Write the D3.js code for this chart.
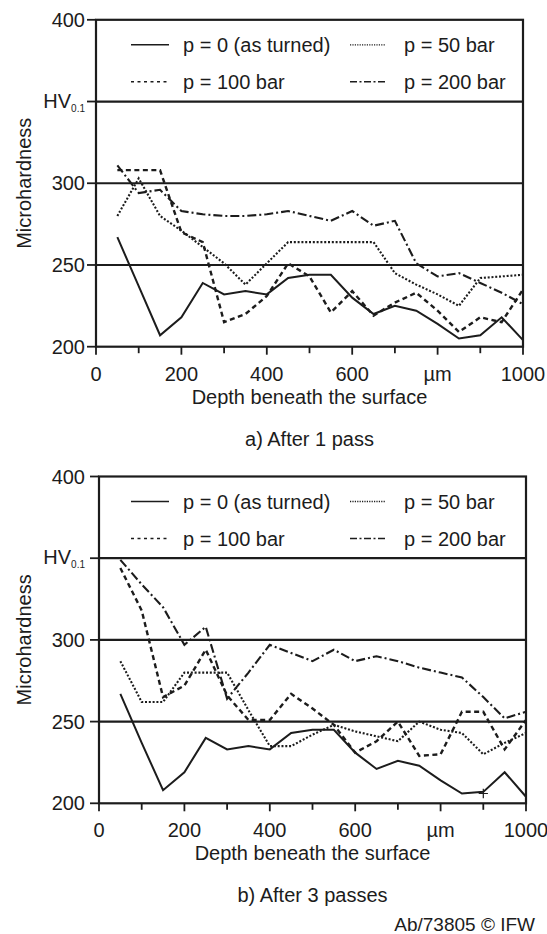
<!DOCTYPE html>
<html><head><meta charset="utf-8">
<script src="https://cdn.jsdelivr.net/npm/d3@7"></script>
<style>
html,body{margin:0;padding:0;background:#fff;}
svg{display:block;font-family:Arial,"Liberation Sans",sans-serif;}
</style></head><body>
<svg id="c" width="547" height="934"></svg>
<script>
// ---- data ----
const depth = [50,100,150,200,250,300,350,400,450,500,550,600,650,700,750,800,850,900,950,1000];
const seriesNames = ["p = 0 (as turned)", "p = 50 bar", "p = 100 bar", "p = 200 bar"];
// a) After 1 pass
const pass1_p0   = [267,237,207,218,239,232,234,232,242,244,244,230,220,225,222,214,205,207,218,204];
const pass1_p50  = [280,303,280,271,261,251,238,251,264,264,264,264,264,245,238,232,225,242,243,244];
const pass1_p100 = [308,308,308,270,264,215,220,231,251,243,221,234,219,227,233,222,209,218,215,235];
const pass1_p200 = [311,294,296,283,281,280,280,281,283,280,277,283,274,277,251,243,245,239,233,226];
// b) After 3 passes
const pass3_p0   = [267,237,208,219,240,233,235,233,243,245,245,231,221,226,223,214,206,207,219,204];
const pass3_p50  = [287,262,262,280,280,280,257,235,235,242,248,244,241,238,250,245,243,230,237,243];
const pass3_p100 = [344,318,265,272,294,266,251,251,267,258,248,231,238,250,229,230,256,256,233,251];
const pass3_p200 = [349,334,320,297,308,264,280,297,292,287,294,287,290,287,283,280,277,265,252,256];
// marker seen in panel b
const markerDepth = [900];
const markerValue = [206];
// axes
const yTickValues = [200,250,300,350,400];
const yTickLabels = ["200","250","300","HV","400"];
const gridValues = [250,300,350];
const xTickValues = [0,100,200,300,400,500,600,700,800,900,1000];
const xLabelValues = [0,200,400,600,800,1000];
const xLabelTexts = ["0","200","400","600","µm","1000"];
const panelTitles = ["a) After 1 pass","b) After 3 passes"];

const ink = "#1c1c1c";
const styles = [
  {dash:null, w:2},
  {dash:"2,1.8", w:2.1},
  {dash:"5,3.5", w:2.4},
  {dash:"9,3,2,3", w:2.1}
];

const svg = d3.select("#c");
const FS = 20;

function panel(cfg, series, title, marker){
  const x = d3.scaleLinear().domain([0,1000]).range([cfg.left, cfg.right]);
  const y = d3.scaleLinear().domain([200,400]).range([cfg.bottom, cfg.top]);
  const g = svg.append("g");

  // gridlines
  g.selectAll("line.grid").data(gridValues).enter().append("line")
    .attr("x1", cfg.left).attr("x2", cfg.right)
    .attr("y1", d=>y(d)).attr("y2", d=>y(d))
    .attr("stroke", ink).attr("stroke-width", 2.2);

  // x axis ticks
  g.selectAll("line.xt").data(xTickValues).enter().append("line")
    .attr("x1", d=>x(d)).attr("x2", d=>x(d))
    .attr("y1", cfg.bottom).attr("y2", d=> cfg.bottom + (d%200===0 ? 8 : 6.5))
    .attr("stroke", ink).attr("stroke-width", 1.8);
  g.selectAll("text.xl").data(xLabelValues).enter().append("text")
    .attr("x", d=>x(d)).attr("y", cfg.bottom + 34)
    .attr("text-anchor","middle").attr("font-size", FS).attr("fill", ink)
    .text((d,i)=>xLabelTexts[i]);

  // y ticks
  g.selectAll("line.yt").data(yTickValues).enter().append("line")
    .attr("x1", cfg.left - 9).attr("x2", cfg.left)
    .attr("y1", d=>y(d)).attr("y2", d=>y(d))
    .attr("stroke", ink).attr("stroke-width", 1.8);
  yTickValues.forEach((v,i)=>{
    const t = g.append("text").attr("x", 85).attr("y", y(v)).attr("dy","0.35em")
      .attr("text-anchor","end").attr("font-size", FS).attr("fill", ink);
    if (yTickLabels[i]==="HV"){
      t.attr("dy","0.3em");
      t.append("tspan").text("HV");
      t.append("tspan").attr("font-size", 10).attr("dy", 4).text("0.1");
    } else t.text(yTickLabels[i]);
  });

  // data lines
  const line = d3.line().x((d,i)=>x(depth[i])).y(d=>y(d));
  series.forEach((s,k)=>{
    g.append("path").datum(s).attr("d", line)
      .attr("fill","none").attr("stroke", ink)
      .attr("stroke-width", styles[k].w)
      .attr("stroke-dasharray", styles[k].dash)
      .attr("stroke-linejoin","miter");
  });

  if (marker){
    g.selectAll("path.mk").data(markerDepth).enter().append("path")
      .attr("d", d3.symbol().type(d3.symbolPlus).size(30))
      .attr("transform", (d,i)=>`translate(${x(d)},${y(markerValue[i])})`)
      .attr("fill","none").attr("stroke", ink).attr("stroke-width", 1.2);
  }

  // frame
  g.append("rect").attr("x", cfg.left).attr("y", cfg.top)
    .attr("width", cfg.right-cfg.left).attr("height", cfg.bottom-cfg.top)
    .attr("fill","none").attr("stroke", ink).attr("stroke-width", 2.2);

  // legend
  const legPos = [
    {sx:131, ex:169, tx:183, ry:25},
    {sx:350, ex:386, tx:404, ry:25},
    {sx:131, ex:169, tx:183, ry:62},
    {sx:350, ex:386, tx:404, ry:62}
  ];
  seriesNames.forEach((n,k)=>{
    const p = legPos[k];
    g.append("line").attr("x1", p.sx).attr("x2", p.ex)
      .attr("y1", cfg.top + p.ry).attr("y2", cfg.top + p.ry)
      .attr("stroke", ink).attr("stroke-width", k===1 ? 1.3 : 1.6)
      .attr("stroke-dasharray", k===1 ? "1.2,1.2" : (k===2 ? "3,3.5" : (k===3 ? "7,2.5,2,2.5" : null)));
    g.append("text").attr("x", p.tx).attr("y", cfg.top + p.ry).attr("dy","0.35em")
      .attr("font-size", FS).attr("fill", ink).text(n);
  });

  // axis titles
  g.append("text").attr("transform", `translate(31,${(cfg.top+cfg.bottom)/2}) rotate(-90)`)
    .attr("text-anchor","middle").attr("font-size", FS).attr("fill", ink).text("Microhardness");
  g.append("text").attr("x", (cfg.left+cfg.right)/2).attr("y", cfg.bottom + 57)
    .attr("text-anchor","middle").attr("font-size", FS).attr("fill", ink).text("Depth beneath the surface");
  g.append("text").attr("x", (cfg.left+cfg.right)/2).attr("y", cfg.bottom + 99)
    .attr("text-anchor","middle").attr("font-size", FS).attr("fill", ink).text(title);
}

panel({left:96, right:523, top:19.8, bottom:346.7},
      [pass1_p0, pass1_p50, pass1_p100, pass1_p200], panelTitles[0], false);
panel({left:99, right:526, top:476.5, bottom:803.3},
      [pass3_p0, pass3_p50, pass3_p100, pass3_p200], panelTitles[1], true);

svg.append("text").attr("x", 535).attr("y", 931).attr("text-anchor","end")
  .attr("font-size", 19).attr("fill", ink).text("Ab/73805 © IFW");
</script>
</body></html>
